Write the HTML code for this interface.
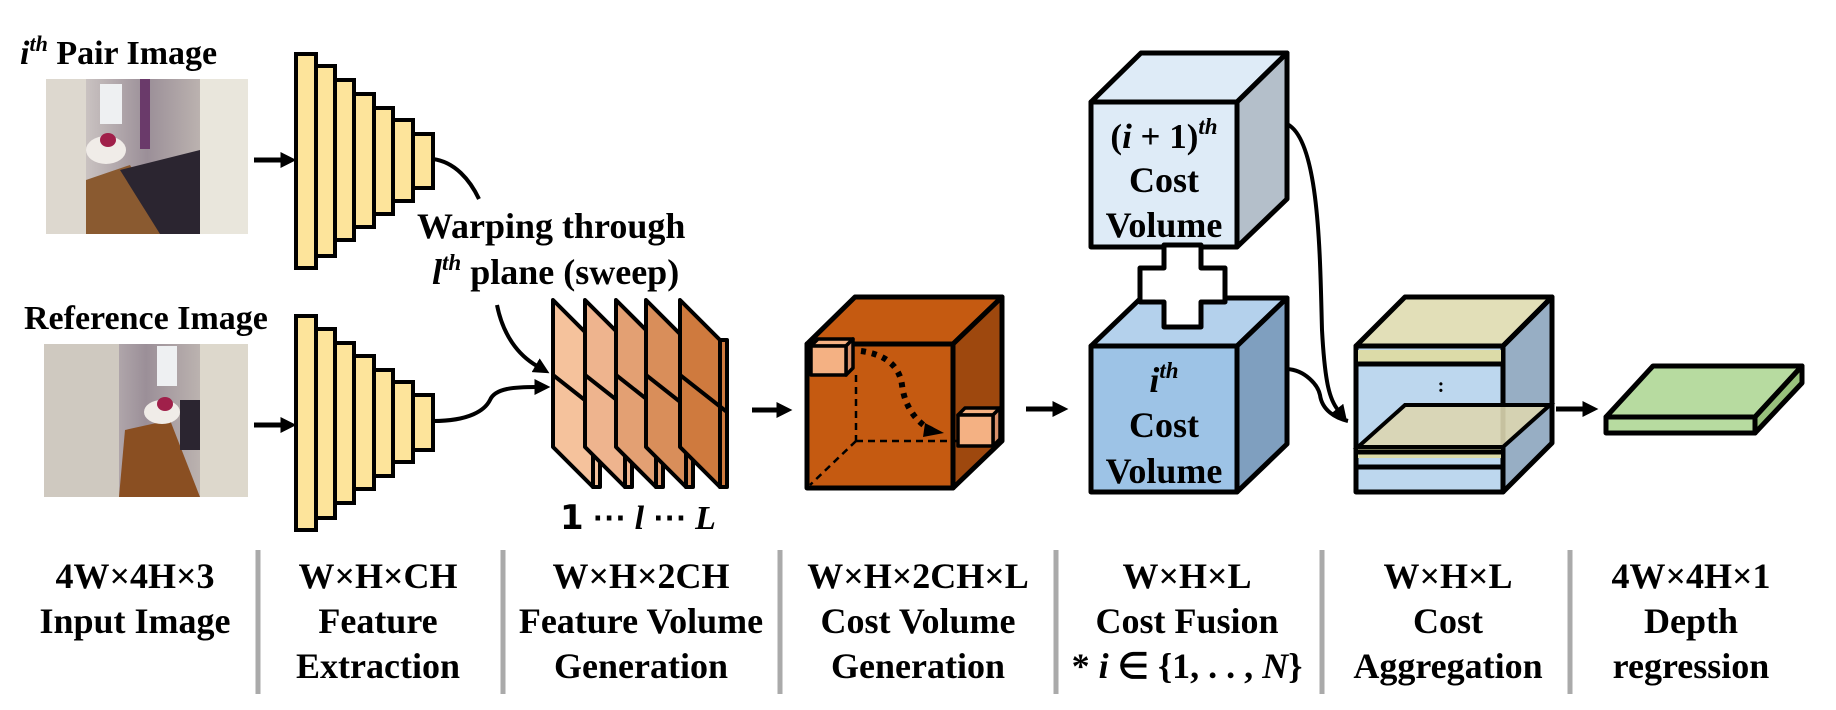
<!DOCTYPE html>
<html><head><meta charset="utf-8"><style>
html,body{margin:0;padding:0;background:#fff}
svg{display:block}
text{font-family:"Liberation Serif",serif;font-weight:bold;fill:#000}
</style></head><body>
<svg width="1836" height="710" viewBox="0 0 1836 710" xmlns="http://www.w3.org/2000/svg">
<defs>
<marker id="ah" markerUnits="userSpaceOnUse" markerWidth="16" markerHeight="16" viewBox="0 0 10 10" refX="1" refY="5" orient="auto">
<path d="M0,0 L10,5 L0,10 Z" fill="#000"/></marker>
<linearGradient id="wall" x1="0" y1="0" x2="1" y2="0">
<stop offset="0" stop-color="#e8e4dc"/><stop offset="0.5" stop-color="#9b8f98"/><stop offset="1" stop-color="#d8d2c4"/></linearGradient>
</defs>

<!-- Top labels -->
<text x="20" y="64" font-size="34"><tspan font-style="italic">i</tspan><tspan font-size="22" dy="-13" font-style="italic">th</tspan><tspan dy="13"> Pair Image</tspan></text>
<text x="24" y="329" font-size="34">Reference Image</text>

<!-- Pair image -->
<g>
<rect x="46" y="79" width="202" height="155" fill="url(#wall)"/>
<rect x="46" y="79" width="40" height="155" fill="#ddd8cf"/>
<rect x="200" y="79" width="48" height="155" fill="#e9e6dc"/>
<rect x="100" y="84" width="22" height="40" fill="#eef0f2"/>
<rect x="140" y="79" width="10" height="70" fill="#6a3a6a"/>
<polygon points="86,234 86,180 130,165 170,234" fill="#8a5a30"/>
<polygon points="120,170 200,150 200,234 160,234" fill="#2b2530"/>
<ellipse cx="106" cy="150" rx="20" ry="14" fill="#f0ece8"/>
<ellipse cx="108" cy="140" rx="8" ry="7" fill="#a0204a"/>
</g>
<!-- Ref image -->
<g>
<rect x="44" y="344" width="204" height="153" fill="url(#wall)"/>
<rect x="44" y="344" width="75" height="153" fill="#cfc9c0"/>
<rect x="200" y="344" width="48" height="153" fill="#ddd8cc"/>
<rect x="157" y="346" width="20" height="40" fill="#eef0f2"/>
<polygon points="119,497 125,430 170,420 200,497" fill="#8a4f22"/>
<ellipse cx="162" cy="412" rx="18" ry="12" fill="#f0ece8"/>
<ellipse cx="165" cy="404" rx="8" ry="7" fill="#a0204a"/>
<rect x="180" y="400" width="20" height="50" fill="#2b2530"/>
</g>

<!-- arrows into pyramids -->
<line x1="254" y1="160" x2="282" y2="160" stroke="#000" stroke-width="5" marker-end="url(#ah)"/>
<line x1="254" y1="425" x2="282" y2="425" stroke="#000" stroke-width="5" marker-end="url(#ah)"/>

<!-- pyramids -->
<g fill="#fde49b" stroke="#000" stroke-width="4">
<rect x="296" y="54" width="20" height="214"/><rect x="316" y="66" width="19" height="190"/><rect x="335" y="80" width="19" height="160"/><rect x="354" y="94" width="20" height="133"/><rect x="374" y="108" width="19" height="106"/><rect x="393" y="120" width="20" height="81"/><rect x="413" y="134" width="20" height="54"/>
<rect x="296" y="316" width="20" height="214"/><rect x="316" y="329" width="19" height="189"/><rect x="335" y="343" width="19" height="160"/><rect x="354" y="356" width="20" height="133"/><rect x="374" y="370" width="19" height="106"/><rect x="393" y="382" width="20" height="80"/><rect x="413" y="395" width="20" height="55"/>
</g>

<!-- warping curves -->
<path d="M433,159 C455,162 470,180 479,199" fill="none" stroke="#000" stroke-width="4"/>
<text x="417" y="238" font-size="36">Warping through</text>
<text x="432" y="284" font-size="36"><tspan font-style="italic">l</tspan><tspan font-size="23" dy="-14" font-style="italic">th</tspan><tspan dy="14"> plane (sweep)</tspan></text>
<path d="M497,305 C503,335 518,355 537,366" fill="none" stroke="#000" stroke-width="4" marker-end="url(#ah)"/>
<path d="M433,421 C470,421 485,410 490,400 C495,388 515,387 536,387" fill="none" stroke="#000" stroke-width="4" marker-end="url(#ah)"/>

<!-- feature volume slices -->
<g stroke="#000" stroke-width="4" stroke-linejoin="round">
<g><polygon points="593,340 600,340 600,487 593,487" fill="#f5c29c"/><polygon points="553,300 593,340 593,487 553,447" fill="#f5c29c"/><line x1="553" y1="375" x2="600" y2="412"/></g>
<g transform="translate(32,0)"><polygon points="593,340 600,340 600,487 593,487" fill="#eeb48e"/><polygon points="553,300 593,340 593,487 553,447" fill="#eeb48e"/><line x1="553" y1="375" x2="600" y2="412"/></g>
<g transform="translate(63,0)"><polygon points="593,340 600,340 600,487 593,487" fill="#e3a073"/><polygon points="553,300 593,340 593,487 553,447" fill="#e3a073"/><line x1="553" y1="375" x2="600" y2="412"/></g>
<g transform="translate(93,0)"><polygon points="593,340 600,340 600,487 593,487" fill="#d98e5a"/><polygon points="553,300 593,340 593,487 553,447" fill="#d98e5a"/><line x1="553" y1="375" x2="600" y2="412"/></g>
<g transform="translate(127,0)"><polygon points="593,340 600,340 600,487 593,487" fill="#cf7a3e"/><polygon points="553,300 593,340 593,487 553,447" fill="#cf7a3e"/><line x1="553" y1="375" x2="600" y2="412"/></g>
</g>
<text x="560" y="529" font-size="34"><tspan font-family="DejaVu Sans">1</tspan> ⋯ <tspan font-style="italic">l</tspan> ⋯ <tspan font-style="italic">L</tspan></text>

<line x1="752" y1="410" x2="778" y2="410" stroke="#000" stroke-width="5" marker-end="url(#ah)"/>

<!-- orange cube -->
<g stroke="#000" stroke-width="5" stroke-linejoin="round">
<polygon points="807,344 855,297 1002,297 953,344" fill="#c55a11"/>
<polygon points="953,344 1002,297 1002,441 953,488" fill="#9e480e"/>
<rect x="807" y="344" width="146" height="144" fill="#c55a11"/>
</g>
<g stroke="#000" stroke-width="2.5" stroke-dasharray="7,5" fill="none">
<line x1="856" y1="375" x2="856" y2="441"/><line x1="856" y1="441" x2="958" y2="441"/><line x1="856" y1="441" x2="810" y2="485"/>
</g>
<path d="M861,351 C890,355 900,370 902,385 C905,410 920,425 932,430" fill="none" stroke="#000" stroke-width="6" stroke-dasharray="5,6"/>
<polygon points="925,423 944,433 923,437" fill="#000"/>
<g stroke="#000" stroke-width="3.5" stroke-linejoin="round">
<polygon points="811,346 818,339 853,339 846,346" fill="#f4b183"/><polygon points="846,346 853,339 853,368 846,375" fill="#d9906a"/><rect x="811" y="346" width="35" height="29" fill="#f4b183"/>
<polygon points="958,415 965,408 1000,408 993,415" fill="#f4b183"/><polygon points="993,415 1000,408 1000,439 993,446" fill="#d9906a"/><rect x="958" y="415" width="35" height="31" fill="#f4b183"/>
</g>

<line x1="1026" y1="409" x2="1054" y2="409" stroke="#000" stroke-width="5" marker-end="url(#ah)"/>

<!-- i+1 cube -->
<g stroke="#000" stroke-width="5" stroke-linejoin="round">
<polygon points="1091,102 1141,53 1287,53 1237,102" fill="#deebf7"/>
<polygon points="1237,102 1287,53 1287,199 1237,247" fill="#b4bfca"/>
<rect x="1091" y="102" width="146" height="145" fill="#deebf7"/>
<polygon points="1091,346 1141,298 1287,298 1237,346" fill="#b4d1ec"/>
<polygon points="1237,346 1287,298 1287,444 1237,492" fill="#7f9fbf"/>
<rect x="1091" y="346" width="146" height="146" fill="#9dc3e6"/>
<polygon points="1164,245 1201,245 1201,268 1225,268 1225,302 1201,302 1201,327 1164,327 1164,302 1140,302 1140,268 1164,268" fill="#fff"/>
</g>
<text x="1164" y="148" font-size="35" text-anchor="middle">(<tspan font-style="italic">i</tspan> + 1)<tspan font-size="23" dy="-14" font-style="italic">th</tspan></text>
<text x="1164" y="192" font-size="36" text-anchor="middle">Cost</text>
<text x="1164" y="237" font-size="36" text-anchor="middle">Volume</text>
<text x="1164" y="392" font-size="36" text-anchor="middle"><tspan font-style="italic">i</tspan><tspan font-size="23" dy="-14" font-style="italic">th</tspan></text>
<text x="1164" y="437" font-size="36" text-anchor="middle">Cost</text>
<text x="1164" y="483" font-size="36" text-anchor="middle">Volume</text>

<!-- curves into aggregation -->
<path d="M1287,124 C1320,140 1320,260 1322,330 C1325,385 1330,400 1338,410" fill="none" stroke="#000" stroke-width="4" marker-end="url(#ah)"/>
<path d="M1287,369 C1305,370 1318,385 1320,395 C1322,410 1335,418 1348,421" fill="none" stroke="#000" stroke-width="4"/>

<!-- aggregation cube -->
<g stroke="#000" stroke-width="5" stroke-linejoin="round">
<polygon points="1356,346 1405,297 1552,297 1503,346" fill="#e2dfb8"/>
<polygon points="1503,346 1552,297 1552,443 1503,492" fill="#97aec4"/>
<rect x="1356" y="346" width="147" height="146" fill="#bdd7ee"/>
</g>
<rect x="1358" y="350" width="143" height="12" fill="#dcdba8"/>
<line x1="1356" y1="364" x2="1503" y2="364" stroke="#000" stroke-width="5"/>
<polygon points="1358,447 1405,405 1550,405 1503,447" fill="#dcd6b0" fill-opacity="0.9" stroke="#000" stroke-width="4"/>
<rect x="1358" y="449" width="143" height="9" fill="#dcdba8"/>
<line x1="1356" y1="452" x2="1503" y2="452" stroke="#000" stroke-width="5"/>
<line x1="1356" y1="467" x2="1503" y2="467" stroke="#000" stroke-width="5"/>
<line x1="1503" y1="346" x2="1552" y2="297" stroke="#000" stroke-width="5"/>
<text x="1441" y="392" font-size="20" text-anchor="middle">:</text>

<line x1="1556" y1="409" x2="1584" y2="409" stroke="#000" stroke-width="5" marker-end="url(#ah)"/>

<!-- green slab -->
<g stroke="#000" stroke-width="5" stroke-linejoin="round">
<polygon points="1606,417 1653,366 1802,366 1755,417" fill="#b7dba0"/>
<polygon points="1755,417 1802,366 1802,383 1755,433" fill="#98c27c"/>
<rect x="1606" y="417" width="149" height="16" fill="#b7dba0"/>
</g>

<!-- dividers -->
<g stroke="#aaa" stroke-width="5">
<line x1="258" y1="550" x2="258" y2="694"/><line x1="503" y1="550" x2="503" y2="694"/><line x1="780" y1="550" x2="780" y2="694"/><line x1="1056" y1="550" x2="1056" y2="694"/><line x1="1322" y1="550" x2="1322" y2="694"/><line x1="1570" y1="550" x2="1570" y2="694"/>
</g>

<!-- bottom labels -->
<g font-size="36" text-anchor="middle">
<text x="135" y="588">4W×4H×3</text><text x="135" y="633">Input Image</text>
<text x="378" y="588">W×H×CH</text><text x="378" y="633">Feature</text><text x="378" y="678">Extraction</text>
<text x="641" y="588">W×H×2CH</text><text x="641" y="633">Feature Volume</text><text x="641" y="678">Generation</text>
<text x="918" y="588">W×H×2CH×L</text><text x="918" y="633">Cost Volume</text><text x="918" y="678">Generation</text>
<text x="1187" y="588">W×H×L</text><text x="1187" y="633">Cost Fusion</text><text x="1187" y="678">* <tspan font-style="italic">i</tspan> ∈ {1, . . , <tspan font-style="italic">N</tspan>}</text>
<text x="1448" y="588">W×H×L</text><text x="1448" y="633">Cost</text><text x="1448" y="678">Aggregation</text>
<text x="1691" y="588">4W×4H×1</text><text x="1691" y="633">Depth</text><text x="1691" y="678">regression</text>
</g>
</svg>
</body></html>
